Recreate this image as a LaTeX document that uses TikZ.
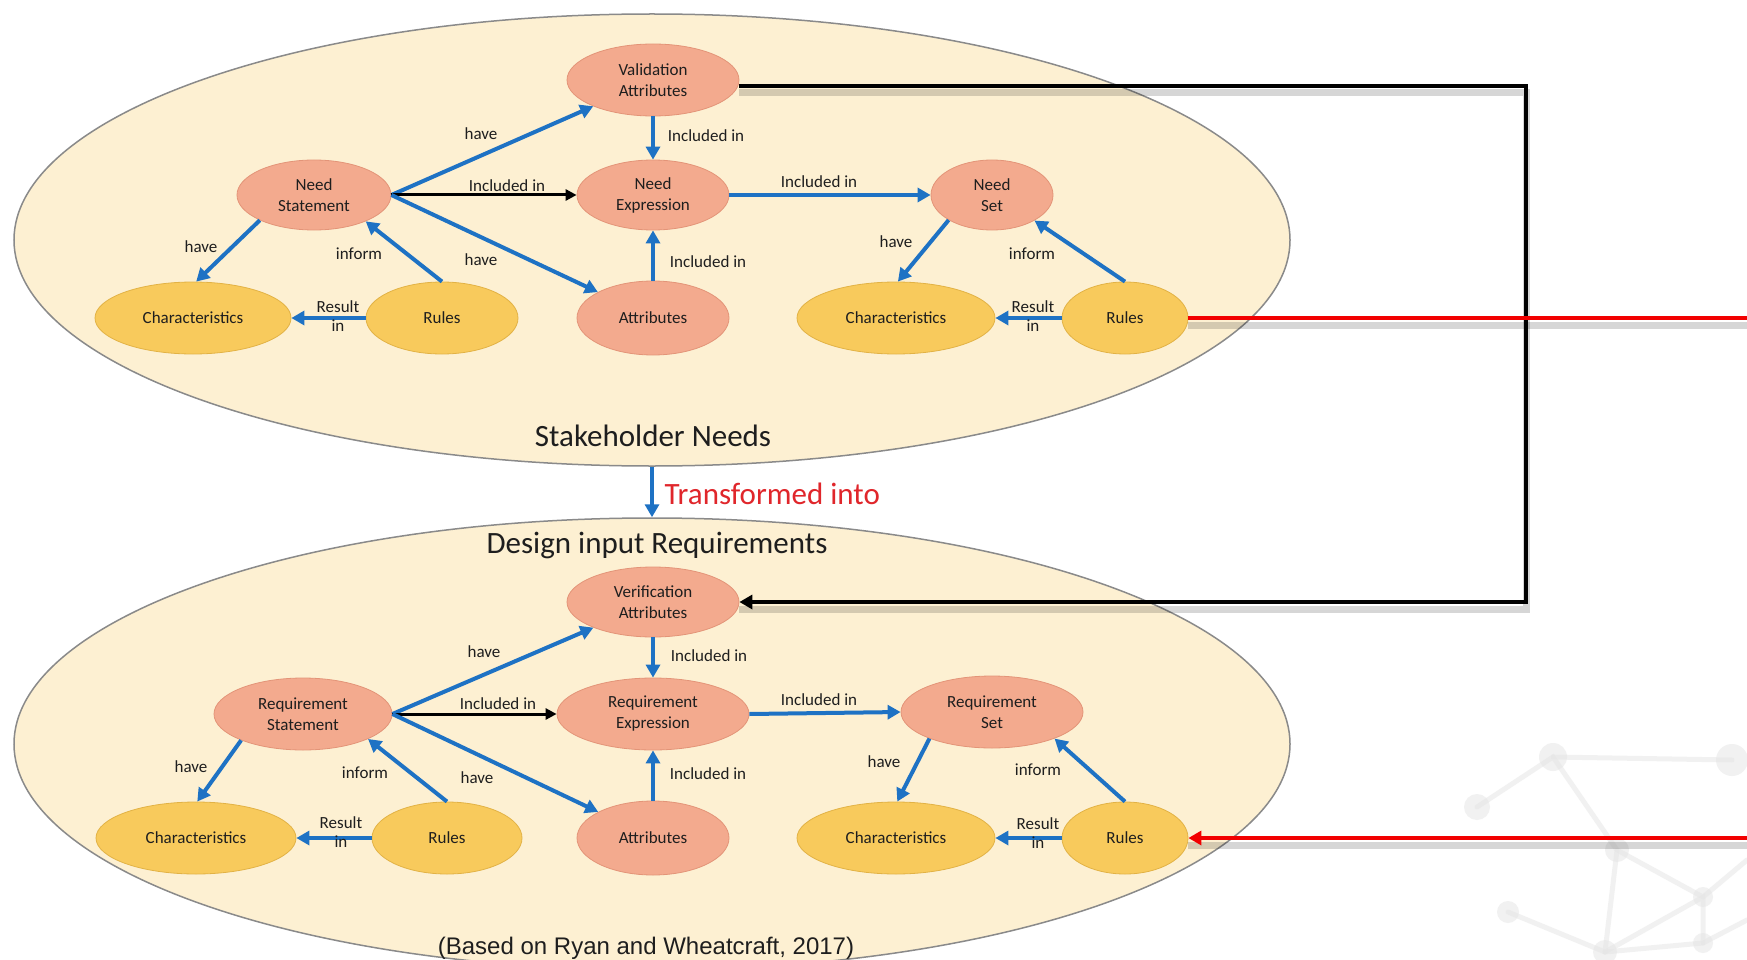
\documentclass[tikz,border=0pt]{standalone}
\usepackage{fontspec}
\setmainfont{Carlito}
\newfontfamily\arialfont{Liberation Sans}
\usetikzlibrary{arrows.meta,shapes.geometric}

\definecolor{cream}{HTML}{FDF0D2}
\definecolor{rim}{HTML}{8A8A8A}
\definecolor{salmon}{HTML}{F3AA8E}
\definecolor{salmonrim}{HTML}{E39478}
\definecolor{gold}{HTML}{F8CA5C}
\definecolor{goldrim}{HTML}{E2B245}
\definecolor{blu}{HTML}{1E72C4}
\definecolor{ink}{HTML}{1E1E1E}
\definecolor{redline}{HTML}{F20000}
\definecolor{redtext}{HTML}{E0262B}
\definecolor{faint}{HTML}{E6E6E6}

\tikzset{
  outerzone/.style={ellipse, draw=rim, fill=cream, line width=1.5pt, inner sep=0pt},
  salnode/.style={ellipse, draw=salmonrim, fill=salmon, line width=0.8pt, inner sep=0pt,
    align=center, text=ink, font=\fontsize{17}{21}\selectfont},
  goldnode/.style={ellipse, draw=goldrim, fill=gold, line width=0.8pt, inner sep=0pt,
    align=center, text=ink, font=\fontsize{17}{21}\selectfont},
  lbl/.style={inner sep=0pt, text=ink, align=center, font=\fontsize{17}{19}\selectfont},
  bluearrow/.style={draw=blu, line width=4pt, -{Triangle[length=13pt,width=14pt]}},
  blackarrow/.style={draw=black, line width=3pt, -{Triangle[length=11pt,width=11pt]}},
  heavyblack/.style={draw=black, line width=4pt},
  heavyred/.style={draw=redline, line width=4pt},
  dropshadow/.style={draw=black, opacity=0.16, line width=7pt, transform canvas={yshift=-7pt}},
}

\begin{document}
\begin{tikzpicture}[x=1pt,y=-1pt]
\useasboundingbox (0,0) rectangle (1747,960);
\clip (0,0) rectangle (1747,960);
\fill[white] (0,0) rectangle (1747,960);

% faint network decoration, lower right
\begin{scope}[draw=faint, fill=faint, line width=5pt, line cap=round, opacity=0.55]
  \draw (1477,807) -- (1553,757) -- (1617,850) -- (1703,897) -- (1747,860);
  \draw (1508,912) -- (1605,952) -- (1703,943) -- (1747,920);
  \draw (1605,952) -- (1703,897) -- (1703,943);
  \draw (1617,850) -- (1605,952);
  \draw (1553,757) -- (1732,760);
  \fill (1508,912) circle (11) (1605,952) circle (12) (1703,897) circle (10)
        (1703,943) circle (10) (1617,850) circle (12) (1732,760) circle (16)
        (1553,757) circle (14) (1477,807) circle (13);
\end{scope}

% ===== Stakeholder needs zone =====
\node[outerzone, minimum width=1276pt, minimum height=452pt] (sn) at (652,240) {};
\node[font=\fontsize{31}{36}\selectfont, text=ink] (snt) at (653,436) {Stakeholder Needs};

\node[salnode, minimum width=172pt, minimum height=72pt] (va) at (653,80) {Validation\\Attributes};
\node[salnode, minimum width=154pt, minimum height=70pt] (ns) at (314,195) {Need\\Statement};
\node[salnode, minimum width=152pt, minimum height=70pt] (ne) at (653,195) {Need\\Expression};
\node[salnode, minimum width=122pt, minimum height=70pt] (nset) at (992,195) {Need\\Set};
\node[goldnode, minimum width=196pt, minimum height=72pt] (cl) at (193,318) {Characteristics};
\node[goldnode, minimum width=152pt, minimum height=72pt] (rl) at (442,318) {Rules};
\node[salnode, minimum width=152pt, minimum height=74pt] (at) at (653,318) {Attributes};
\node[goldnode, minimum width=198pt, minimum height=72pt] (cr) at (896,318) {Characteristics};
\node[goldnode, minimum width=126pt, minimum height=72pt] (rr) at (1125,318) {Rules};

\draw[bluearrow] (ns.east) -- (va);
\draw[blackarrow] (ns.east) -- (ne.west);
\draw[bluearrow] (ns.east) -- (at);
\draw[bluearrow] (ns.205) -- (cl.85);
\draw[bluearrow] (rl.north) -- (ns.333);
\draw[bluearrow] (rl.west) -- (cl.east);
\draw[bluearrow] (va.south) -- (ne.north);
\draw[bluearrow] (at.north) -- (ne.south);
\draw[bluearrow] (ne.east) -- (nset.west);
\draw[bluearrow] (nset.210) -- (cr.87);
\draw[bluearrow] (rr.north) -- (nset.329);
\draw[bluearrow] (rr.west) -- (cr.east);

\node[lbl] (t1) at (481,134) {have};
\node[lbl] (t2) at (507,186) {Included in};
\node[lbl] (t3) at (481,260) {have};
\node[lbl] (t4) at (201,247) {have};
\node[lbl] (t5) at (359,254) {inform};
\node[lbl] (t6) at (338,316) {Result\\in};
\node[lbl] (t7) at (706,136) {Included in};
\node[lbl] (t8) at (708,262) {Included in};
\node[lbl] (t9) at (819,182) {Included in};
\node[lbl] (t10) at (896,242) {have};
\node[lbl] (t11) at (1032,254) {inform};
\node[lbl] (t12) at (1033,316) {Result\\in};

% ===== Design input requirements zone =====
\node[outerzone, minimum width=1276pt, minimum height=452pt] (dr) at (652,744) {};
\node[font=\fontsize{31}{36}\selectfont, text=ink] (drt) at (657,545) {Design input Requirements};
\node[font=\arialfont\fontsize{24}{28}\selectfont, text=ink] (src) at (646,948) {(Based on Ryan and Wheatcraft, 2017)};

\draw[draw=blu, line width=3.5pt, -{Triangle[length=13pt,width=14pt]}] (sn.south) -- (dr.north);
\node[font=\fontsize{31}{35}\selectfont, text=redtext, anchor=west] (tr) at (661,494) {Transformed into};

\node[salnode, minimum width=172pt, minimum height=70pt] (vb) at (653,602) {Verification\\Attributes};
\node[salnode, minimum width=178pt, minimum height=72pt] (rs) at (303,714) {Requirement\\Statement};
\node[salnode, minimum width=192pt, minimum height=72pt] (re) at (653,714) {Requirement\\Expression};
\node[salnode, minimum width=182pt, minimum height=72pt] (rset) at (992,712) {Requirement\\Set};
\node[goldnode, minimum width=200pt, minimum height=72pt] (cl2) at (196,838) {Characteristics};
\node[goldnode, minimum width=150pt, minimum height=72pt] (rl2) at (447,838) {Rules};
\node[salnode, minimum width=152pt, minimum height=74pt] (at2) at (653,838) {Attributes};
\node[goldnode, minimum width=198pt, minimum height=72pt] (cr2) at (896,838) {Characteristics};
\node[goldnode, minimum width=126pt, minimum height=72pt] (rr2) at (1125,838) {Rules};

\draw[bluearrow] (rs.east) -- (vb);
\draw[blackarrow] (rs.east) -- (re.west);
\draw[bluearrow] (rs.east) -- (at2);
\draw[bluearrow] (rs.203) -- (cl2.88);
\draw[bluearrow] (rl2.north) -- (rs.339);
\draw[bluearrow] (rl2.west) -- (cl2.east);
\draw[bluearrow] (vb.south) -- (re.north);
\draw[bluearrow] (at2.north) -- (re.south);
\draw[bluearrow] (re.east) -- (rset.west);
\draw[bluearrow] (rset.203) -- (cr2.88);
\draw[bluearrow] (rr2.north) -- (rset.337);
\draw[bluearrow] (rr2.west) -- (cr2.east);

\node[lbl] (b1) at (484,652) {have};
\node[lbl] (b2) at (498,704) {Included in};
\node[lbl] (b3) at (477,778) {have};
\node[lbl] (b4) at (191,767) {have};
\node[lbl] (b5) at (365,773) {inform};
\node[lbl] (b6) at (341,832) {Result\\in};
\node[lbl] (b7) at (709,656) {Included in};
\node[lbl] (b8) at (708,774) {Included in};
\node[lbl] (b9) at (819,700) {Included in};
\node[lbl] (b10) at (884,762) {have};
\node[lbl] (b11) at (1038,770) {inform};
\node[lbl] (b12) at (1038,833) {Result\\in};

% ===== cross-zone links =====
\coordinate (bend) at (1526,86);
\coordinate (redout) at (1747,0);

\draw[dropshadow] (va.east |- bend) -- (bend) -- (bend |- vb.east) -- (vb.east);
\draw[dropshadow] (rr.east) -- (rr.east -| redout);
\draw[dropshadow] (rr2.east -| redout) -- (rr2.east);

\draw[heavyblack, -{Triangle[length=13pt,width=14pt]}]
  (va.east |- bend) -- (bend) -- (bend |- vb.east) -- (vb.east);
\draw[heavyred] (rr.east) -- (rr.east -| redout);
\draw[heavyred, -{Triangle[length=13pt,width=14pt]}] (rr2.east -| redout) -- (rr2.east);
\end{tikzpicture}
\end{document}
